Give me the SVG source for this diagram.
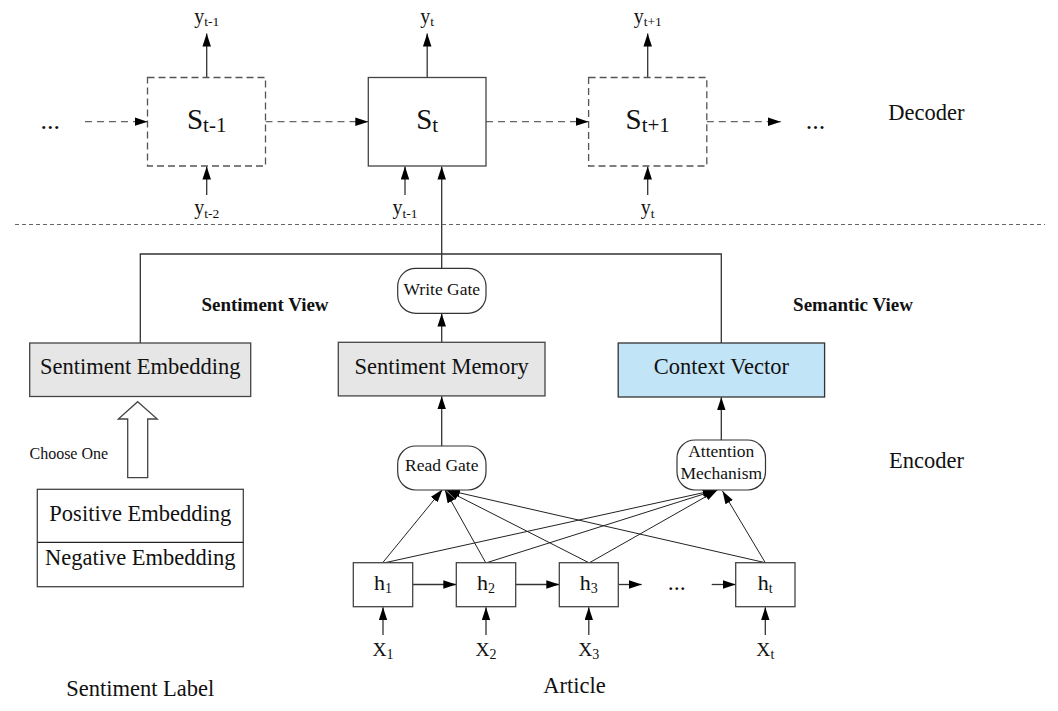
<svg xmlns="http://www.w3.org/2000/svg" width="1058" height="711" viewBox="0 0 1058 711">
<style>
text{font-family:"Liberation Serif","Times New Roman",serif;fill:#111}
.box{fill:#fff;stroke:#444;stroke-width:1.3}
.dbox{fill:#fff;stroke:#555;stroke-width:1.3;stroke-dasharray:7 4}
.gray{fill:#e6e6e6;stroke:#444;stroke-width:1.3}
.blue{fill:#c1e4f7;stroke:#333;stroke-width:1.3}
.gate{fill:#fff;stroke:#333;stroke-width:1.2}
.ln{fill:none;stroke:#333;stroke-width:1.3}
.thin{fill:none;stroke:#222;stroke-width:1}
.dash{fill:none;stroke:#666;stroke-width:1.3;stroke-dasharray:7 5}
.sep{fill:none;stroke:#666;stroke-width:1.2;stroke-dasharray:4 3}
.arr{marker-end:url(#ah)}
.big{font-size:22.5px}
.gt{font-size:17.5px}
.bold{font-size:19px;font-weight:bold}
</style>
<defs>
<marker id="ah" markerUnits="userSpaceOnUse" markerWidth="14" markerHeight="10" refX="13" refY="4.25" orient="auto">
<path d="M0,0 L13,4.25 L0,8.5 z" fill="#000"/>
</marker>
</defs>

<g id="connectors">
<line class="ln arr" x1="206.7" y1="77.5" x2="206.7" y2="33.5"/>
<line class="ln arr" x1="427.2" y1="77.5" x2="427.2" y2="33.5"/>
<line class="ln arr" x1="647.7" y1="77.5" x2="647.7" y2="33.5"/>
<line class="ln arr" x1="206.7" y1="195" x2="206.7" y2="166.5"/>
<line class="ln arr" x1="405" y1="195" x2="405" y2="166.5"/>
<line class="ln arr" x1="647.7" y1="195" x2="647.7" y2="166.5"/>
<line class="ln arr" x1="441.7" y1="268.3" x2="441.7" y2="166.5"/>
<line class="dash arr" x1="85" y1="121.7" x2="147.5" y2="121.7"/>
<line class="dash arr" x1="265.5" y1="121.7" x2="368.3" y2="121.7"/>
<line class="dash arr" x1="486" y1="121.7" x2="588.6" y2="121.7"/>
<line class="dash arr" x1="706.8" y1="121.7" x2="780.8" y2="121.7"/>
<line class="sep" x1="15" y1="224.5" x2="1045" y2="224.5"/>
<path class="ln" d="M140.3,343 V254 H721.3 V343"/>
<line class="ln arr" x1="441.7" y1="342.3" x2="441.7" y2="313.6"/>
<line class="ln arr" x1="441.7" y1="446" x2="441.7" y2="396.2"/>
<line class="ln arr" x1="721.3" y1="440" x2="721.3" y2="397.2"/>
<line class="thin arr" x1="382.7" y1="562.7" x2="442.5" y2="489.5"/>
<line class="thin arr" x1="485.7" y1="562.7" x2="445" y2="490"/>
<line class="thin arr" x1="588.8" y1="562.7" x2="446" y2="490"/>
<line class="thin arr" x1="765.3" y1="562.7" x2="447" y2="490"/>
<line class="thin arr" x1="385" y1="562.7" x2="715.5" y2="490"/>
<line class="thin arr" x1="486.7" y1="562.7" x2="716.5" y2="490"/>
<line class="thin arr" x1="589.5" y1="562.7" x2="717.5" y2="490"/>
<line class="thin arr" x1="765.3" y1="562.7" x2="722.5" y2="491"/>
<line class="ln arr" x1="412.7" y1="584.5" x2="456.3" y2="584.5"/>
<line class="ln arr" x1="515.7" y1="584.5" x2="559.3" y2="584.5"/>
<line class="ln arr" x1="618.3" y1="584.5" x2="641.7" y2="584.5"/>
<line class="ln arr" x1="711.7" y1="584.5" x2="735.7" y2="584.5"/>
<line class="ln arr" x1="383" y1="635" x2="383" y2="607.2"/>
<line class="ln arr" x1="486" y1="635" x2="486" y2="607.2"/>
<line class="ln arr" x1="588.8" y1="635" x2="588.8" y2="607.2"/>
<line class="ln arr" x1="765.3" y1="635" x2="765.3" y2="607.2"/>
<polygon points="137.7,401.7 157.3,419 147.7,419 147.7,477.7 127.7,477.7 127.7,419 118.3,419" fill="#fff" stroke="#444" stroke-width="1.3"/>
</g>

<g id="decoder-labels">
<text x="206.7" y="22.5" font-size="20" text-anchor="middle">y<tspan font-size="13.5" dy="3.5">t-1</tspan></text>
<text x="427.2" y="22.5" font-size="20" text-anchor="middle">y<tspan font-size="13.5" dy="3.5">t</tspan></text>
<text x="647.7" y="22.5" font-size="20" text-anchor="middle">y<tspan font-size="13.5" dy="3.5">t+1</tspan></text>
<text x="206.7" y="214" font-size="20" text-anchor="middle">y<tspan font-size="13.5" dy="3.5">t-2</tspan></text>
<text x="405" y="214" font-size="20" text-anchor="middle">y<tspan font-size="13.5" dy="3.5">t-1</tspan></text>
<text x="647.7" y="214" font-size="20" text-anchor="middle">y<tspan font-size="13.5" dy="3.5">t</tspan></text>
<text x="50.3" y="128.5" font-size="26" text-anchor="middle">...</text>
<text x="815.5" y="128.5" font-size="26" text-anchor="middle">...</text>
<text x="926.3" y="120" class="big" text-anchor="middle">Decoder</text>
</g>

<g id="s-t-1">
<rect class="dbox" x="147.5" y="77.5" width="118" height="88.5"/>
<text x="206.7" y="129" font-size="29" text-anchor="middle">S<tspan font-size="21" dy="2.5">t-1</tspan></text>
</g>
<g id="s-t">
<rect class="box" x="368.3" y="77.5" width="117.7" height="88.5"/>
<text x="427.2" y="129" font-size="29" text-anchor="middle">S<tspan font-size="21" dy="2.5">t</tspan></text>
</g>
<g id="s-t+1">
<rect class="dbox" x="588.6" y="77.5" width="118.2" height="88.5"/>
<text x="647.7" y="129" font-size="29" text-anchor="middle">S<tspan font-size="21" dy="2.5">t+1</tspan></text>
</g>

<g id="view-labels">
<text x="265" y="311" class="bold" text-anchor="middle">Sentiment View</text>
<text x="853" y="311" class="bold" text-anchor="middle">Semantic View</text>
</g>

<g id="write-gate">
<rect class="gate" x="397.7" y="268.3" width="88.3" height="45" rx="18" ry="18"/>
<text x="441.8" y="294.5" class="gt" text-anchor="middle">Write Gate</text>
</g>

<g id="sentiment-embedding">
<rect class="gray" x="29.7" y="343" width="221" height="53.5"/>
<text x="140.3" y="374" class="big" text-anchor="middle">Sentiment Embedding</text>
</g>
<g id="sentiment-memory">
<rect class="gray" x="338.3" y="342.3" width="206.7" height="53.6"/>
<text x="441.7" y="373.5" class="big" text-anchor="middle">Sentiment Memory</text>
</g>
<g id="context-vector">
<rect class="blue" x="618.2" y="343" width="206.4" height="54"/>
<text x="721.4" y="374" class="big" text-anchor="middle">Context Vector</text>
</g>

<g id="choose-one">
<text x="68.8" y="459" font-size="16" text-anchor="middle">Choose One</text>
</g>

<g id="sentiment-label">
<rect class="box" x="37.3" y="489.3" width="206" height="97.4"/>
<line x1="37.3" y1="542.3" x2="243.3" y2="542.3" stroke="#222" stroke-width="1.3"/>
<text x="140.3" y="521" class="big" text-anchor="middle">Positive Embedding</text>
<text x="140.3" y="565" class="big" text-anchor="middle">Negative Embedding</text>
<text x="140.3" y="696" class="big" text-anchor="middle">Sentiment Label</text>
</g>

<g id="read-gate">
<rect class="gate" x="397.7" y="446" width="88.3" height="44" rx="18" ry="18"/>
<text x="441.8" y="471" class="gt" text-anchor="middle">Read Gate</text>
</g>
<g id="attention">
<rect class="gate" x="677" y="440" width="88.5" height="50" rx="18" ry="18"/>
<text x="721.3" y="457" class="gt" text-anchor="middle">Attention</text>
<text x="721.3" y="478.5" class="gt" text-anchor="middle">Mechanism</text>
</g>
<text x="926.5" y="468" class="big" text-anchor="middle">Encoder</text>

<g id="h1">
<rect class="box" x="353.3" y="562.7" width="59.4" height="44"/>
<text x="383" y="590" font-size="22" text-anchor="middle">h<tspan font-size="14" dy="2.5">1</tspan></text>
</g>
<g id="h2">
<rect class="box" x="456.3" y="562.7" width="59.4" height="44"/>
<text x="486" y="590" font-size="22" text-anchor="middle">h<tspan font-size="14" dy="2.5">2</tspan></text>
</g>
<g id="h3">
<rect class="box" x="559.3" y="562.7" width="59" height="44"/>
<text x="588.8" y="590" font-size="22" text-anchor="middle">h<tspan font-size="14" dy="2.5">3</tspan></text>
</g>
<text x="676.7" y="590" font-size="24" text-anchor="middle">...</text>
<g id="ht">
<rect class="box" x="735.7" y="562.7" width="59.3" height="44"/>
<text x="765.3" y="590" font-size="22" text-anchor="middle">h<tspan font-size="14" dy="2.5">t</tspan></text>
</g>

<g id="inputs">
<text x="383" y="656" font-size="19.5" text-anchor="middle">X<tspan font-size="14" dy="3">1</tspan></text>
<text x="486" y="656" font-size="19.5" text-anchor="middle">X<tspan font-size="14" dy="3">2</tspan></text>
<text x="588.8" y="656" font-size="19.5" text-anchor="middle">X<tspan font-size="14" dy="3">3</tspan></text>
<text x="765.3" y="656" font-size="19.5" text-anchor="middle">X<tspan font-size="14" dy="3">t</tspan></text>
<text x="574.5" y="692.5" class="big" text-anchor="middle">Article</text>
</g>
</svg>
